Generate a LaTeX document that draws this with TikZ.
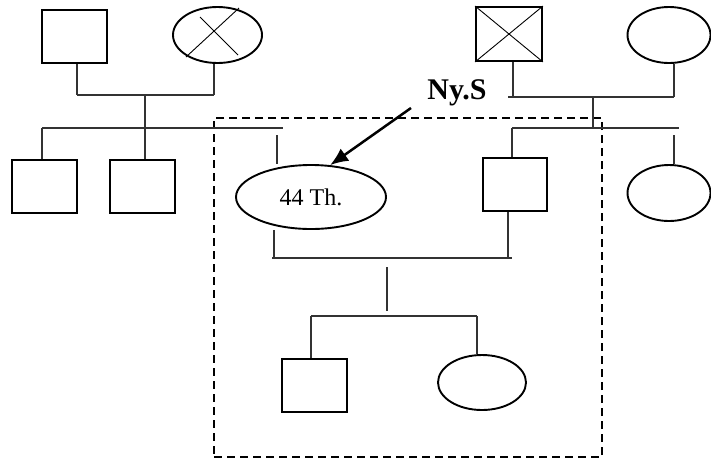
\documentclass[tikz,border=0pt]{standalone}
\usepackage{fontspec}
\setmainfont{Liberation Serif}
\usetikzlibrary{shapes.geometric,arrows.meta}
\tikzset{
  male/.style={draw, line width=1.9pt, rectangle, inner sep=0pt},
  female/.style={draw, line width=1.9pt, ellipse, inner sep=0pt},
  link/.style={draw=black!80, line width=1.2pt},
  cross/.style={draw, line width=0.9pt},
  frame/.style={draw, line width=2.6pt, dash pattern=on 8pt off 5pt, rectangle, inner sep=0pt},
}
\begin{document}
\begin{tikzpicture}[x=1pt,y=-1pt]
\useasboundingbox (0,0) rectangle (711,459);
% dashed frame
\node[frame, minimum width=388pt, minimum height=339pt] (box) at (408,287.5) {};
% top-left couple
\node[male, minimum width=65pt, minimum height=53pt] (f1) at (74.5,36.5) {};
\node[female, minimum width=89pt, minimum height=56pt] (m1) at (217.5,35) {};
\draw[cross] ([shift={(21.5,-27)}]m1.center) -- ([shift={(-31.5,22)}]m1.center);
\draw[cross] ([shift={(-17.5,-18)}]m1.center) -- ([shift={(20.5,20)}]m1.center);
% top-right couple
\node[male, minimum width=66pt, minimum height=54pt] (f2) at (509,34) {};
\draw[cross] (f2.north west) -- (f2.south east);
\draw[cross] (f2.north east) -- (f2.south west);
\node[female, minimum width=83pt, minimum height=56pt] (m2) at (669,35) {};
% second generation
\node[male, minimum width=65pt, minimum height=53pt] (k1) at (44.5,186.5) {};
\node[male, minimum width=65pt, minimum height=53pt] (k2) at (142.5,186.5) {};
\node[female, minimum width=150pt, minimum height=64pt, font=\fontsize{24}{26}\selectfont] (ego) at (311,197) {44 Th.};
\node[male, minimum width=64pt, minimum height=53pt] (hb) at (515,184.5) {};
\node[female, minimum width=83pt, minimum height=56pt] (sis) at (669,193) {};
% third generation
\node[male, minimum width=65pt, minimum height=53pt] (son) at (314.5,385.5) {};
\node[female, minimum width=88pt, minimum height=55pt] (dau) at (482,382.5) {};
% label
\node[font=\bfseries\fontsize{30}{32}\selectfont, inner sep=0pt] (lab) at (457,93) {Ny.S};
% coordinates
\coordinate (a1) at (77,95);
\coordinate (a2) at (214,95);
\coordinate (a3) at (145,95);
\coordinate (a4) at (145,128);
\coordinate (s1l) at (42,128);
\coordinate (s1r) at (283,128);
\coordinate (e1) at (277,135);
\coordinate (b1) at (513,97);
\coordinate (b0) at (508,97);
\coordinate (b2) at (674,97);
\coordinate (b3) at (593,97);
\coordinate (b4) at (593,128);
\coordinate (s2l) at (512,128);
\coordinate (s2r) at (679,128);
\coordinate (e2) at (674,135);
\coordinate (c1) at (274,258);
\coordinate (c0) at (272,258);
\coordinate (c2) at (508,258);
\coordinate (c2r) at (512,258);
\coordinate (c3) at (387,267);
\coordinate (c4) at (387,311);
\coordinate (d1) at (311,316);
\coordinate (d2) at (477,316);
\coordinate (ar) at (411,108);
% links, top-left family
\draw[link] (f1.south -| a1) -- (a1);
\draw[link] (m1.south -| a2) -- (a2);
\draw[link] (a1) -- (a2);
\draw[link] (a3) -- (a4);
\draw[link] (s1l) -- (s1r);
\draw[link] (s1l) -- (k1.north -| s1l);
\draw[link] (a4) -- (k2.north -| a4);
\draw[link] (e1) -- (ego.north -| e1);
% links, top-right family
\draw[link] (f2.south -| b1) -- (b1);
\draw[link] (m2.south -| b2) -- (b2);
\draw[link] (b0) -- (b2);
\draw[link] (b3) -- (b4);
\draw[link] (s2l) -- (s2r);
\draw[link] (s2l) -- (hb.north -| s2l);
\draw[link] (e2) -- (sis.north -| e2);
% links, ego family
\draw[link] (ego.south -| c1) -- (c1);
\draw[link] (hb.south -| c2) -- (c2);
\draw[link] (c0) -- (c2r);
\draw[link] (c3) -- (c4);
\draw[link] (d1) -- (d2);
\draw[link] (d1) -- (son.north -| d1);
\draw[link] (d2) -- (dau.north -| d2);
% arrow
\draw[line width=2.5pt, -{Latex[length=18pt,width=15pt]}] (ar) -- (ego.59);
\end{tikzpicture}
\end{document}
